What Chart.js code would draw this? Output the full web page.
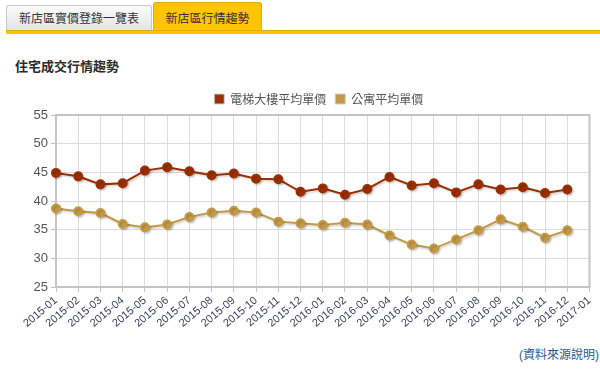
<!DOCTYPE html>
<html>
<head>
<meta charset="utf-8">
<script src="https://cdn.jsdelivr.net/npm/chart.js@4/dist/chart.umd.min.js"></script>
<style>
  body { margin: 0; width: 600px; height: 381px; background: #fff; position: relative; overflow: hidden;
         font-family: Arial, "Liberation Sans", "Noto Sans CJK TC", sans-serif; }
  .tab { position: absolute; box-sizing: border-box; font-size: 12px; color: #333; text-align: center;
         border-radius: 3px 3px 0 0; }
  .tab1 { left: 6px; top: 5px; width: 146px; height: 27px; line-height: 26px;
          border: 1px solid #c8c8c8; border-bottom: none;
          background: linear-gradient(#fbfbfb, #e2e2e2); }
  .tab2 { left: 153px; top: 2px; width: 109px; height: 30px; line-height: 32px;
          border: 1px solid #e7ad00; border-bottom: none; background: #ffc600; }
  .bar { position: absolute; left: 6px; top: 30px; width: 594px; height: 4px;
         background: #ffc400; border-top: 1px solid #eaa800; box-sizing: border-box; }
  .title { position: absolute; left: 15px; top: 56px; font-size: 13px; font-weight: bold; color: #2a2a2a; }
  #wrap { position: absolute; left: 0; top: 80px; width: 600px; height: 260px; }
  .src { position: absolute; right: 1px; top: 345px; font-size: 12px; color: #1d5a91; }
</style>
</head>
<body>
<div class="tab tab1">新店區實價登錄一覽表</div>
<div class="tab tab2">新店區行情趨勢</div>
<div class="bar"></div>
<div class="title">住宅成交行情趨勢</div>
<div id="wrap"><canvas id="trendChart"></canvas></div>
<div class="src">(資料來源說明)</div>

<script>
// ===== 月份 (x 軸) =====
const months = [
    '2015-01', '2015-02', '2015-03', '2015-04', '2015-05', '2015-06',
    '2015-07', '2015-08', '2015-09', '2015-10', '2015-11', '2015-12',
    '2016-01', '2016-02', '2016-03', '2016-04', '2016-05', '2016-06',
    '2016-07', '2016-08', '2016-09', '2016-10', '2016-11', '2016-12',
    '2017-01'
];

// ===== 電梯大樓平均單價 =====
const elevatorPrice = [
    44.9, 44.3, 42.9, 43.1, 45.3, 45.9, 45.2, 44.5, 44.8, 43.9, 43.8, 41.6,
    42.2, 41.1, 42.1, 44.2, 42.7, 43.1, 41.5, 42.9, 42.0, 42.4, 41.4, 42.0
];

// ===== 公寓平均單價 =====
const apartmentPrice = [
    38.7, 38.2, 37.9, 36.0, 35.4, 35.9, 37.2, 38.0, 38.3, 38.0, 36.4, 36.1,
    35.8, 36.2, 35.9, 34.0, 32.4, 31.7, 33.3, 34.9, 36.8, 35.5, 33.6, 34.9
];

// ===== y 軸刻度 =====
const yMin = 25;
const yMax = 55;
const yStep = 5;

// 線條陰影
const shadowPlugin = {
    id: 'shadow',
    beforeDatasetsDraw(chart) {
        const ctx = chart.ctx;
        ctx.save();
        ctx.shadowColor = 'rgba(0,0,0,0.18)';
        ctx.shadowOffsetX = 1.5;
        ctx.shadowOffsetY = 1.5;
        ctx.shadowBlur = 2;
    },
    afterDatasetsDraw(chart) {
        chart.ctx.restore();
    }
};

// 外框
const framePlugin = {
    id: 'frame',
    beforeDatasetsDraw(chart) {
        const { ctx, chartArea: a } = chart;
        ctx.save();
        ctx.strokeStyle = '#c4c4c4';
        ctx.lineWidth = 2;
        ctx.strokeRect(a.left, a.top, a.right - a.left, a.bottom - a.top);
        ctx.restore();
    }
};

// 圖例置中於繪圖區
const legendShift = {
    id: 'legendShift',
    afterLayout(chart) {
        const lg = chart.legend;
        const a = chart.chartArea;
        const dx = (a.left + a.right) / 2 - (lg.left + lg.right) / 2 - 4;
        lg.left += dx;
        lg.right += dx;
    }
};

const ctx = document.getElementById('trendChart').getContext('2d');
new Chart(ctx, {
    type: 'line',
    data: {
        labels: months,
        datasets: [
            {
                label: '電梯大樓平均單價',
                data: elevatorPrice,
                borderColor: '#9c2f00',
                backgroundColor: '#9c2f00',
                borderWidth: 2,
                pointRadius: 4,
                pointHoverRadius: 4,
                tension: 0,
                fill: false
            },
            {
                label: '公寓平均單價',
                data: apartmentPrice,
                borderColor: '#c49a48',
                backgroundColor: '#c49a48',
                borderWidth: 2,
                pointRadius: 4,
                pointHoverRadius: 4,
                tension: 0,
                fill: false
            }
        ]
    },
    options: {
        responsive: true,
        maintainAspectRatio: false,
        animation: false,
        layout: { padding: { top: 4, right: 10, left: 0, bottom: 0 } },
        scales: {
            x: {
                offset: false,
                grid: { color: '#dcdcdc', offset: false, tickLength: 5, tickColor: '#c4c4c4' },
                border: { color: '#c4c4c4', width: 2 },
                ticks: {
                    autoSkip: false,
                    minRotation: 40,
                    maxRotation: 40,
                    padding: 2,
                    color: '#3a3f5a',
                    font: { family: 'Arial, "Liberation Sans"', size: 11 }
                },
                afterFit(scale) { scale.height = 53; }
            },
            y: {
                min: yMin,
                max: yMax,
                grid: { color: '#dcdcdc', tickLength: 5, tickColor: '#c4c4c4' },
                border: { color: '#c4c4c4', width: 2 },
                ticks: {
                    stepSize: yStep,
                    padding: 3,
                    color: '#555',
                    font: { family: 'Arial, "Liberation Sans"', size: 13 }
                },
                afterFit(scale) { scale.width = 56; }
            }
        },
        plugins: {
            legend: {
                position: 'top',
                labels: {
                    boxWidth: 10,
                    boxHeight: 10,
                    padding: 9,
                    color: '#555',
                    font: { family: '"Noto Sans CJK TC", Arial', size: 12 },
                    generateLabels(chart) {
                        return chart.data.datasets.map((ds, i) => ({
                            text: ds.label,
                            fillStyle: ds.backgroundColor,
                            strokeStyle: '#cfcfcf',
                            lineWidth: 1,
                            fontColor: '#555',
                            datasetIndex: i,
                            hidden: false
                        }));
                    }
                }
            },
            tooltip: { enabled: false }
        }
    },
    plugins: [framePlugin, shadowPlugin, legendShift]
});
</script>
</body>
</html>
